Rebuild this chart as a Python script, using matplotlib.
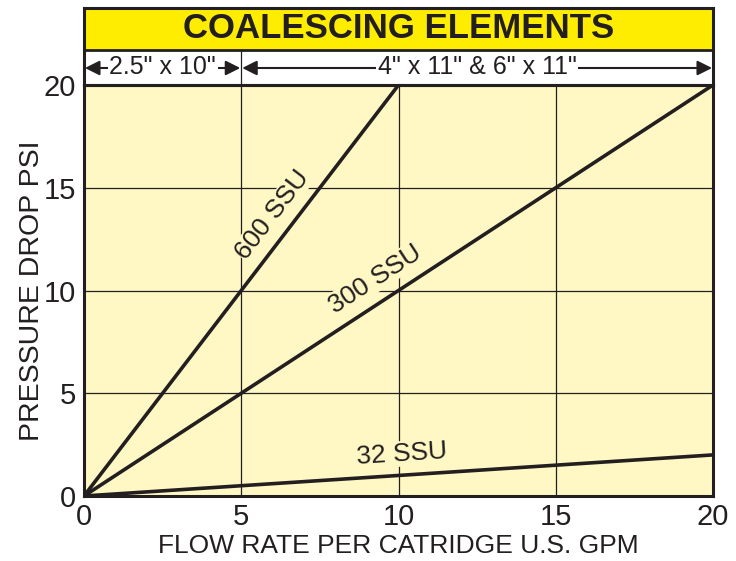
import numpy as np
import matplotlib.pyplot as plt
import matplotlib.patches as mpatches

plt.rcParams['font.family'] = ['Liberation Sans', 'DejaVu Sans']

# data: straight lines from origin, (flow gpm, pressure psi)
series_names = ["600 SSU", "300 SSU", "32 SSU"]
flow_600 = [0, 10]
psi_600 = [0, 20]
flow_300 = [0, 20]
psi_300 = [0, 20]
flow_32 = [0, 20]
psi_32 = [0, 2]

ticks = [0, 5, 10, 15, 20]
title = "COALESCING ELEMENTS"
size_labels = ['2.5" x 10"', '4" x 11" & 6" x 11"']
size_ranges = [(0, 5), (5, 20)]

ink = "#231f20"
bg = "#fff8c4"
yellow = "#ffed00"

fig = plt.figure(figsize=(7.36, 5.61), dpi=100)
W, H = 736, 561
ax = fig.add_axes([84 / W, 65 / H, 629 / W, 411 / H])
ax.set_facecolor(bg)
ax.set_xlim(0, 20)
ax.set_ylim(0, 20)
ax.set_xticks(ticks)
ax.set_yticks(ticks)
ax.tick_params(length=0, labelsize=21, colors=ink)
ax.tick_params(axis="x", pad=5)
ax.tick_params(axis="y", pad=6)
ax.grid(True, color=ink, lw=0.9)
ax.set_axisbelow(True)
for s in ax.spines.values():
    s.set_color(ink)
    s.set_linewidth(2.2)

for fx, py in [(flow_600, psi_600), (flow_300, psi_300), (flow_32, psi_32)]:
    ax.plot(fx, py, color=ink, lw=2.6, solid_capstyle="butt", zorder=3)

label_pos = [(6.0, 13.7), (9.25, 10.55), (10.1, 2.05)]
for name, (fx, py), (lx, ly) in zip(series_names,
                                    [(flow_600, psi_600), (flow_300, psi_300), (flow_32, psi_32)],
                                    label_pos):
    slope = (py[1] - py[0]) / (fx[1] - fx[0])
    ang = np.degrees(np.arctan(slope * (411 / 20) / (629 / 20)))
    ax.text(lx, ly, name, rotation=ang, rotation_mode="anchor", ha="center", va="center",
            fontsize=19, color=ink, zorder=4,
            bbox=dict(facecolor=bg, edgecolor="none", pad=0.5))

ax.set_xlabel("FLOW RATE PER CATRIDGE U.S. GPM", fontsize=19, color=ink, labelpad=2)
ax.set_ylabel("PRESSURE DROP PSI", fontsize=20.5, color=ink, labelpad=-1)

# header band with title and cartridge size ranges
hd = fig.add_axes([84 / W, (H - 85) / H, 629 / W, 77 / H])
hd.set_xlim(0, 20)
hd.set_ylim(0, 77)
hd.set_xticks([])
hd.set_yticks([])
hd.add_patch(mpatches.Rectangle((0, 35), 20, 42, facecolor=yellow, edgecolor="none"))
hd.add_patch(mpatches.Rectangle((0, 0), 20, 35, facecolor="white", edgecolor="none"))
hd.axhline(35, color=ink, lw=2)
hd.axhline(0.5, color="#777777", lw=1.5)
hd.text(10, 56, title, ha="center", va="center", fontsize=25, fontweight="bold", color=ink)
hd.plot([5, 5], [0, 35], color=ink, lw=0.9)
for lab, (a, b) in zip(size_labels, size_ranges):
    hd.annotate("", xy=(a + 0.03, 17), xytext=(b - 0.03, 17),
                arrowprops=dict(arrowstyle="<|-|>", color=ink, lw=1.5, mutation_scale=22,
                                shrinkA=0, shrinkB=0))
    hd.text((a + b) / 2, 17.5, lab, ha="center", va="center", fontsize=18, color=ink,
            bbox=dict(facecolor="white", edgecolor="none", pad=1))
for s in hd.spines.values():
    s.set_color(ink)
    s.set_linewidth(2.2)

fig.savefig("out.png", dpi=100)
